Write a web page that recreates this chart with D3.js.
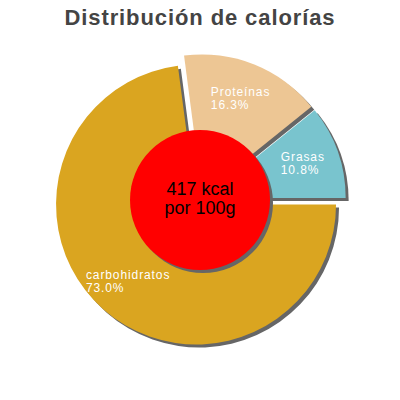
<!DOCTYPE html>
<html><head><meta charset="utf-8">
<script src="https://cdn.jsdelivr.net/npm/d3@7"></script>
<style>html,body{margin:0;padding:0;background:#fff;}svg{display:block;}</style>
</head><body>
<svg id="chart" width="400" height="400"></svg>
<script>
const title = "Distribución de calorías";
const categories = ["carbohidratos", "Proteínas", "Grasas"];
const values = [73.0, 16.3, 10.8];
const colors = ["#daa520", "#edc694", "#79c4ce"];
const centerLines = ["417 kcal", "por 100g"];

const W = 400, H = 400;
const cx = 200, cy = 200, R = 140, explode = 6, innerR = 70;
const svg = d3.select("#chart");

svg.append("text").attr("x", W/2).attr("y", 25).attr("text-anchor", "middle")
  .attr("font-family", "Liberation Sans, Arial, sans-serif").attr("font-weight", "bold")
  .attr("font-size", 22).attr("letter-spacing", 0.9).attr("fill", "#444").text(title);

const data = categories.map((c, i) => ({name: c, value: values[i], color: colors[i]}));
const pie = d3.pie().sort(null).value(d => d.value).startAngle(Math.PI/2).endAngle(Math.PI/2 + 2*Math.PI);
const arcs = pie(data);
const arc = d3.arc().innerRadius(0).outerRadius(R);

function off(a) {
  const m = (a.startAngle + a.endAngle)/2;
  return [Math.sin(m)*explode, -Math.cos(m)*explode];
}

const g = svg.append("g").attr("transform", `translate(${cx},${cy})`);
// shadows
g.selectAll("path.sh").data(arcs).join("path").attr("class", "sh")
  .attr("d", arc).attr("fill", "#666")
  .attr("transform", a => { const o = off(a); return `translate(${o[0]+3},${o[1]+3})`; });
// slices
g.selectAll("path.sl").data(arcs).join("path").attr("class", "sl")
  .attr("d", arc).attr("fill", a => a.data.color)
  .attr("transform", a => { const o = off(a); return `translate(${o[0]},${o[1]})`; });

// labels
const labR = 103;
arcs.forEach(a => {
  const o = off(a);
  const m = (a.startAngle + a.endAngle)/2;
  const lx = o[0] + Math.sin(m)*labR, ly = o[1] - Math.cos(m)*labR;
  const t = g.append("text").attr("font-family", "Liberation Sans, Arial, sans-serif")
    .attr("font-size", 12).attr("fill", "#fff").attr("letter-spacing", 0.9);
  const t1 = t.append("tspan").text(a.data.name);
  const t2 = t.append("tspan").text(d3.format(".1f")(a.data.value) + "%");
  const w = Math.max(t1.node().getComputedTextLength(), t2.node().getComputedTextLength());
  const x0 = lx - w/2;
  t1.attr("x", x0).attr("y", ly - 3);
  t2.attr("x", x0).attr("y", ly + 10);
});

// center circle
g.append("circle").attr("cx", 3).attr("cy", 3).attr("r", innerR).attr("fill", "#666");
g.append("circle").attr("cx", 0).attr("cy", 0).attr("r", innerR).attr("fill", "#ff0000");
const ct = g.append("text").attr("text-anchor", "middle")
  .attr("font-family", "Liberation Sans, Arial, sans-serif").attr("font-size", 18).attr("fill", "#000");
centerLines.forEach((l, i) => ct.append("tspan").attr("x", 0).attr("y", -5 + i*19).text(l));
</script>
</body></html>
